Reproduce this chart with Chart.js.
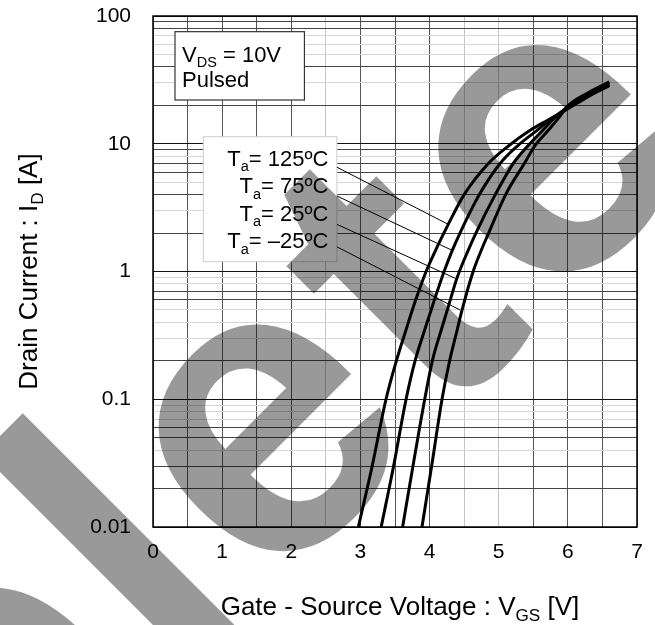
<!DOCTYPE html>
<html>
<head>
<meta charset="utf-8">
<script src="https://cdn.jsdelivr.net/npm/chart.js@4.4.0/dist/chart.umd.min.js"></script>
<style>
  html, body { margin: 0; padding: 0; background: #fff; }
</style>
</head>
<body>
<canvas id="idVgsChart" width="655" height="625"></canvas>
<script>
// Ambient temperature of each curve (label box order, top to bottom)
const tempLabels = ['125ºC', '75ºC', '25ºC', '–25ºC'];

// Gate-source voltage [V] / drain current [A]
const vgs125 = [2.97, 3.17, 3.37, 3.52, 3.66, 3.80, 3.95, 4.12, 4.27, 4.50, 4.85, 5.14, 5.46, 5.72, 6.00, 6.30, 6.60];
const id125  = [0.01, 0.03, 0.10, 0.20, 0.35, 0.60, 1.00, 1.60, 2.34, 4.00, 7.00, 9.60, 12.8, 15.4, 18.8, 23.5, 28.5];

const vgs75 = [3.30, 3.48, 3.66, 3.79, 3.93, 4.07, 4.21, 4.33, 4.44, 4.72, 5.02, 5.27, 5.56, 5.76, 6.00, 6.30, 6.60];
const id75  = [0.01, 0.03, 0.10, 0.20, 0.35, 0.60, 1.00, 1.47, 2.00, 4.00, 7.00, 9.60, 12.8, 15.6, 19.1, 24.0, 29.3];

const vgs25 = [3.61, 3.76, 3.93, 4.04, 4.17, 4.30, 4.40, 4.56, 4.67, 4.95, 5.21, 5.42, 5.64, 5.80, 6.00, 6.30, 6.60];
const id25  = [0.01, 0.03, 0.10, 0.20, 0.35, 0.60, 0.90, 1.47, 2.00, 4.00, 7.00, 9.60, 12.8, 15.8, 19.5, 24.6, 30.0];

const vgsM25 = [3.89, 4.03, 4.18, 4.29, 4.40, 4.47, 4.63, 4.755, 4.855, 5.10, 5.37, 5.52, 5.72, 5.87, 6.00, 6.30, 6.60];
const idM25  = [0.01, 0.03, 0.10, 0.20, 0.35, 0.50, 1.00, 1.50, 2.00, 4.00, 7.00, 9.60, 12.8, 16.0, 19.8, 25.2, 30.5];

// Where each label's leader line touches its curve [V, A]
const leaderEnds = [[4.27, 2.34], [4.32, 1.47], [4.37, 0.885], [4.44, 0.50]];
const leaderStartsId = [6.55, 3.90, 2.34, 1.56];

// Axis ticks
const xTickLabels = [0, 1, 2, 3, 4, 5, 6, 7];
const yTickValues = [0.01, 0.1, 1, 10, 100];
const yTickLabels = ['0.01', '0.1', '1', '10', '100'];

const FONT = '"Liberation Sans", Arial, Helvetica, sans-serif';

// log grid: 1..9 in every decade
const yGrid = [];
for (let d = 0; d < yTickValues.length - 1; d++) {
    for (let m = 1; m < 10; m++) {
        yGrid.push(parseFloat((m * yTickValues[d]).toPrecision(6)));
    }
}
yGrid.push(yTickValues[yTickValues.length - 1]);

// grid lines that print darker on the scanned sheet
const darkY = [90, 80, 40, 20, 9, 7, 6, 4, 2, 0.7, 0.6, 0.2, 0.06, 0.05, 0.03, 0.02];
const lightX = [2.5, 4.5, 5];

function near(a, b) { return Math.abs(a - b) < 1e-6 * Math.max(1, Math.abs(b)); }

// text with subscripts: parts = [[text, isSub], ...]
function drawParts(ctx, parts, x, y, size, align) {
    const widths = parts.map(p => {
        ctx.font = (p[1] ? size * 0.66 : size) + 'px ' + FONT;
        return ctx.measureText(p[0]).width;
    });
    const total = widths.reduce((s, w) => s + w, 0);
    let cx = align === 'right' ? x - total : (align === 'center' ? x - total / 2 : x);
    ctx.textAlign = 'left';
    ctx.textBaseline = 'alphabetic';
    parts.forEach((p, i) => {
        ctx.font = (p[1] ? size * 0.66 : size) + 'px ' + FONT;
        ctx.fillText(p[0], cx, p[1] ? y + size * 0.24 : y);
        cx += widths[i];
    });
}

const overlay = {
    id: 'overlay',
    afterDatasetsDraw(chart) {
        const {ctx, chartArea: a, scales: {x, y}} = chart;
        ctx.save();
        ctx.fillStyle = '#000';

        // condition box
        const bx1 = x.getPixelForValue(0.318), bx2 = x.getPixelForValue(2.19);
        const by1 = y.getPixelForValue(75.4), by2 = y.getPixelForValue(22.0);
        ctx.fillStyle = '#fff';
        ctx.fillRect(bx1, by1, bx2 - bx1, by2 - by1);
        ctx.strokeStyle = '#333';
        ctx.lineWidth = 1.2;
        ctx.strokeRect(bx1, by1, bx2 - bx1, by2 - by1);
        ctx.fillStyle = '#000';
        drawParts(ctx, [['V', false], ['DS', true], [' = 10V', false]], bx1 + 7, by1 + 30, 22, 'left');
        drawParts(ctx, [['Pulsed', false]], bx1 + 7, by1 + 55.5, 22, 'left');

        // temperature label box
        const tx1 = x.getPixelForValue(0.728), tx2 = x.getPixelForValue(2.66);
        const ty1 = y.getPixelForValue(11.35), ty2 = y.getPixelForValue(1.194);
        ctx.fillStyle = '#fff';
        ctx.fillRect(tx1, ty1, tx2 - tx1, ty2 - ty1);
        ctx.strokeStyle = '#ccc';
        ctx.lineWidth = 1;
        ctx.strokeRect(tx1, ty1, tx2 - tx1, ty2 - ty1);
        ctx.fillStyle = '#000';
        tempLabels.forEach((t, i) => {
            drawParts(ctx, [['T', false], ['a', true], ['= ' + t, false]], tx2 - 8.5, ty1 + 29.3 + i * 27.4, 22, 'right');
        });

        // leader lines
        ctx.strokeStyle = '#000';
        ctx.lineWidth = 1;
        leaderEnds.forEach((e, i) => {
            ctx.beginPath();
            ctx.moveTo(tx2, y.getPixelForValue(leaderStartsId[i]));
            ctx.lineTo(x.getPixelForValue(e[0]), y.getPixelForValue(e[1]));
            ctx.stroke();
        });

        // plot frame
        ctx.strokeStyle = '#000';
        ctx.lineWidth = 1.5;
        ctx.strokeRect(a.left, a.top, a.right - a.left, a.bottom - a.top);

        // axis titles
        ctx.fillStyle = '#000';
        drawParts(ctx, [['Gate - Source Voltage : V', false], ['GS', true], [' [V]', false]],
            (a.left + a.right) / 2 + 5, 615, 26, 'center');
        ctx.translate(37, (a.top + a.bottom) / 2);
        ctx.rotate(-Math.PI / 2);
        drawParts(ctx, [['Drain Current : I', false], ['D', true], [' [A]', false]], 0, 0, 26, 'center');
        ctx.restore();
    },
    afterDraw(chart) {
        // grey "Delete" stamp laid over the whole sheet
        const ctx = chart.ctx;
        const size = 420;
        ctx.save();
        ctx.globalCompositeOperation = 'multiply';
        ctx.fillStyle = '#999';
        ctx.font = 'bold ' + size + 'px ' + FONT;
        ctx.letterSpacing = '11px';
        ctx.textBaseline = 'alphabetic';
        ctx.textAlign = 'left';
        const pre = ctx.measureText('Del').width;
        const eW = ctx.measureText('e').width;
        ctx.translate(276, 436);
        ctx.rotate(-Math.PI / 4);
        ctx.fillText('Delete', -(pre + eW / 2), 0.26 * size);
        ctx.restore();
    }
};

function curve(vs, ids) {
    return {
        data: vs.map((v, i) => ({x: v, y: ids[i]})),
        borderColor: '#000',
        borderWidth: 3,
        pointRadius: 0,
        fill: false,
        cubicInterpolationMode: 'monotone'
    };
}

new Chart(document.getElementById('idVgsChart'), {
    type: 'line',
    data: {
        datasets: [
            curve(vgs125, id125),
            curve(vgs75, id75),
            curve(vgs25, id25),
            curve(vgsM25, idM25)
        ]
    },
    options: {
        responsive: false,
        animation: false,
        layout: {padding: {top: 16, right: 18, left: 0, bottom: 0}},
        plugins: {legend: {display: false}, tooltip: {enabled: false}},
        scales: {
            x: {
                type: 'linear',
                min: 0,
                max: 7,
                afterBuildTicks: s => {
                    const t = [];
                    for (let v = 0; v <= 7; v += 0.5) t.push({value: v});
                    s.ticks = t;
                },
                afterFit: s => {
                    s.height = 98;
                    s.paddingLeft = 0;
                    s.paddingRight = 0;
                },
                ticks: {
                    autoSkip: false,
                    maxRotation: 0,
                    padding: 13,
                    color: '#000',
                    font: {family: FONT, size: 21},
                    callback: v => (xTickLabels.includes(v) ? String(v) : '')
                },
                grid: {
                    drawTicks: false,
                    lineWidth: 1,
                    color: c => (lightX.some(v => near(c.tick.value, v)) ? '#c4c4c4' : '#555')
                },
                border: {display: false}
            },
            y: {
                type: 'logarithmic',
                min: 0.01,
                max: 100,
                afterBuildTicks: s => { s.ticks = yGrid.map(v => ({value: v})); },
                afterFit: s => {
                    s.width = 153;
                    s.paddingTop = 0;
                    s.paddingBottom = 0;
                },
                ticks: {
                    autoSkip: false,
                    padding: 22,
                    color: '#000',
                    font: {family: FONT, size: 21},
                    callback: v => {
                        const k = yTickValues.findIndex(t => near(v, t));
                        return k >= 0 ? yTickLabels[k] : '';
                    }
                },
                grid: {
                    drawTicks: false,
                    lineWidth: 1,
                    color: c => {
                        const v = c.tick.value;
                        if (yTickValues.some(t => near(v, t))) return '#111';
                        if (darkY.some(t => near(v, t))) return '#444';
                        return '#d6d6d6';
                    }
                },
                border: {display: false}
            }
        }
    },
    plugins: [overlay]
});
</script>
</body>
</html>
